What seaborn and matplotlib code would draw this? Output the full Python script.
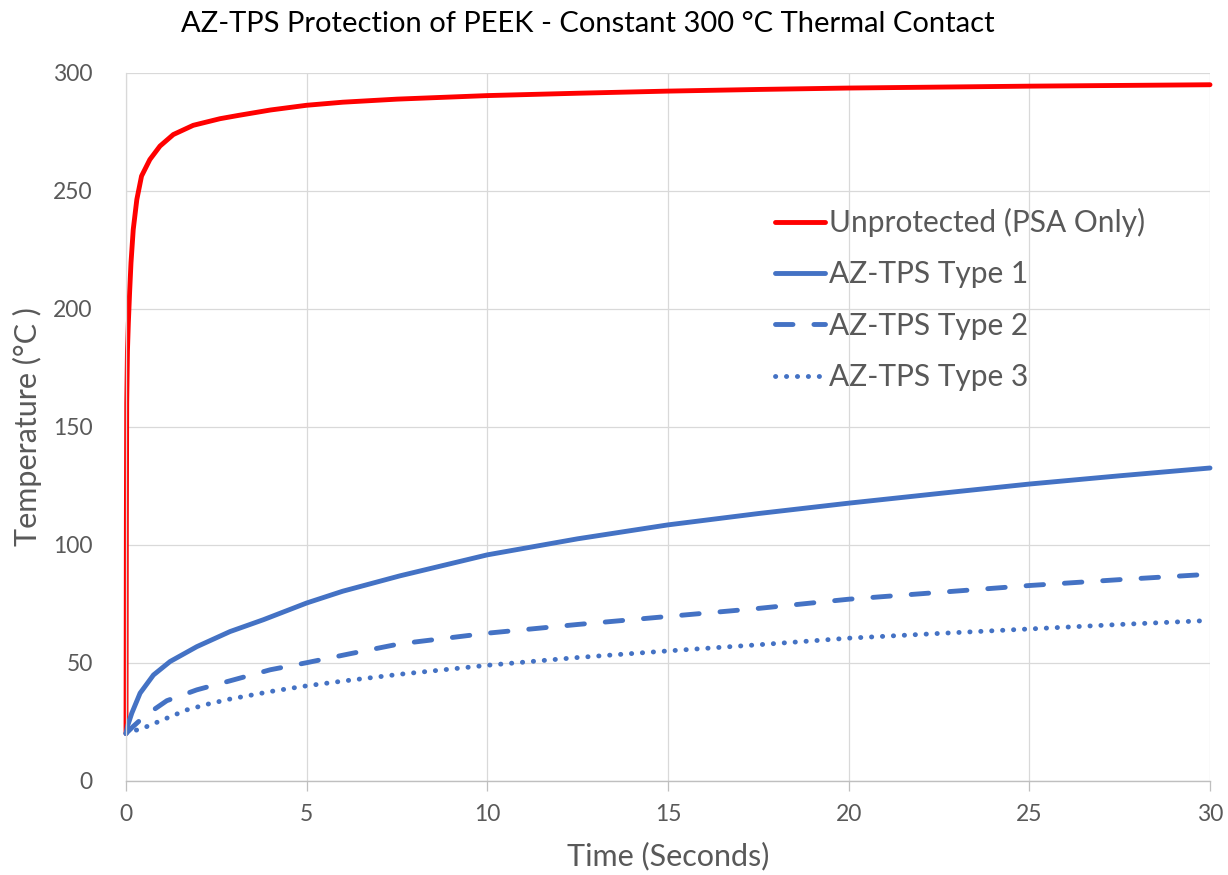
import numpy as np
import pandas as pd
import matplotlib
matplotlib.use("Agg")
import matplotlib.pyplot as plt
import seaborn as sns

# ---- data ----
t_red = [0, 0.005, 0.01, 0.02, 0.04, 0.065, 0.1, 0.138, 0.2, 0.3, 0.43, 0.66, 0.94, 1.31, 1.86,
         2.6, 3.11, 4.0, 5, 6, 7.5, 10, 12.5, 15, 17.5, 20, 22.5, 25, 27.5, 30]
T_red = [20, 60, 110, 160, 182, 194, 207, 219.4, 233.5, 246.3, 256.2, 263.2, 268.9, 273.8, 277.7,
         280.5, 281.9, 284.2, 286.2, 287.5, 288.8, 290.3, 291.3, 292.2, 292.9, 293.5, 293.9, 294.3, 294.6, 294.9]

t_type1 = [0, 0.05, 0.16, 0.39, 0.76, 1.22, 1.96, 2.88, 3.8, 5, 6, 7.58, 10, 12.5, 15, 17.5, 20, 22.5, 25, 27.5, 30]
T_type1 = [20, 23.5, 28.6, 37.1, 44.8, 50.5, 56.8, 63.2, 68.2, 75.3, 80.3, 86.8, 95.7, 102.5, 108.4, 113.2, 117.6, 121.7, 125.7, 129.2, 132.5]

t_type2 = [0, 0.2, 0.45, 0.76, 1.13, 1.96, 2.97, 3.99, 5, 6.2, 7.58, 10, 12.5, 15, 17.5, 20, 22.5, 25, 27.5, 30]
T_type2 = [20, 23, 26.5, 30.0, 33.9, 38.5, 42.7, 47.0, 50, 53.8, 58, 62.5, 66.2, 69.6, 73, 76.9, 79.8, 82.7, 85.2, 87.5]

t_type3 = [0, 0.3, 0.57, 1.13, 1.68, 2.28, 2.88, 3.48, 4.08, 5, 6.1, 7.58, 10, 12.5, 15, 17.5, 20, 22.5, 25, 27.5, 30]
T_type3 = [20, 21.5, 22.9, 26.5, 30.0, 32.5, 34.6, 36.3, 38.0, 40.2, 42.4, 45.1, 48.9, 52.2, 55, 57.6, 60.4, 62.4, 64.3, 66.2, 67.9]

labels = ["Unprotected (PSA Only)", "AZ-TPS Type 1", "AZ-TPS Type 2", "AZ-TPS Type 3"]
x_ticks = [0, 5, 10, 15, 20, 25, 30]
y_ticks = [0, 50, 100, 150, 200, 250, 300]

sns.set_theme(style="white")
FONT = ["Lato", "DejaVu Sans"]
plt.rcParams["font.family"] = FONT
GRAY = "#595959"

fig = plt.figure(figsize=(12.28, 8.75), dpi=100)
ax = fig.add_axes([126 / 1228, 1 - 780.7 / 875, (1210 - 126) / 1228, (780.7 - 72.7) / 875])

RED = "#FF0000"
BLUE = "#4472C4"
series = [
    (t_red, T_red, labels[0], RED, None),
    (t_type1, T_type1, labels[1], BLUE, None),
    (t_type2, T_type2, labels[2], BLUE, (3.6, 4.3)),
    (t_type3, T_type3, labels[3], BLUE, (0.05, 2.2)),
]
for tx, ty, lab, col, dash in series:
    df = pd.DataFrame({"t": tx, "T": ty})
    sns.lineplot(data=df, x="t", y="T", ax=ax, color=col, lw=3.5, sort=False,
                 estimator=None, label=lab)
    ln = ax.get_lines()[-1]
    ln.set_solid_capstyle("round")
    ln.set_solid_joinstyle("round")
    ln.set_clip_on(False)
    if dash is not None:
        ln.set_dashes(dash)
        ln.set_dash_capstyle("round")

ax.set_xlim(0, 30)
ax.set_ylim(0, 300)
ax.set_xticks(x_ticks)
ax.set_yticks(y_ticks)
ax.set_xticklabels([str(v) for v in x_ticks])
ax.set_yticklabels([str(v) for v in y_ticks])
ax.grid(True, color="#D9D9D9", lw=0.9)
ax.set_axisbelow(True)
for s in ["top", "right"]:
    ax.spines[s].set_visible(False)
ax.spines["left"].set_color("#D9D9D9")
ax.spines["left"].set_linewidth(0.9)
ax.spines["bottom"].set_color("#BFBFBF")
ax.spines["bottom"].set_linewidth(1.0)
ax.tick_params(axis="x", direction="out", length=7, width=0.9, color="#BFBFBF",
               labelsize=16.5, labelcolor=GRAY, pad=10, bottom=True)
ax.tick_params(axis="y", length=0, labelsize=16.5, labelcolor=GRAY, pad=24, left=False)

ax.set_xlabel("Time (Seconds)", fontsize=22, color=GRAY, labelpad=12)
ax.set_ylabel("Temperature (°C )", fontsize=22, color=GRAY, labelpad=8)

fig.text(588 / 1228, 1 - 24 / 875, "AZ-TPS Protection of PEEK - Constant 300 °C Thermal Contact",
         ha="center", va="center", fontsize=21, color="#000000")

leg = ax.legend(loc="upper left", bbox_to_anchor=((775 - 126) / 1084, (780.7 - 208) / 708),
                frameon=False, fontsize=21.5, handlelength=1.67, handletextpad=0.13,
                labelspacing=0.78, borderaxespad=0, borderpad=0)
for txt in leg.get_texts():
    txt.set_color(GRAY)

fig.savefig("out.png", dpi=100)
